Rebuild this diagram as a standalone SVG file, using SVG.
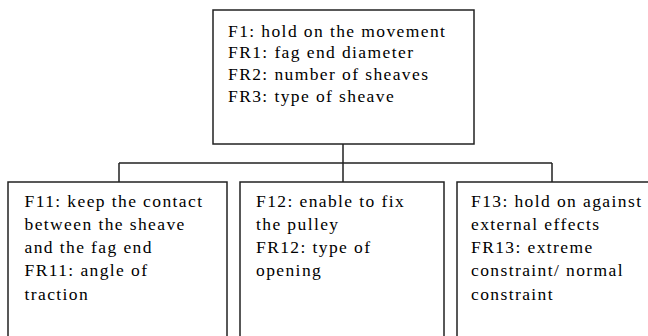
<svg xmlns="http://www.w3.org/2000/svg" width="648" height="336" viewBox="0 0 648 336">
<style>
.box{fill:#fff;stroke:#222;stroke-width:1.5}
.ln{fill:none;stroke:#222;stroke-width:1.5}
text{font-family:"Liberation Serif","Times New Roman",serif;font-size:17.5px;letter-spacing:1.4px;fill:#000}
</style>
<rect width="648" height="336" fill="#fff"/>
<g id="connectors">
<path class="ln" d="M343 144V163M119 163H552M119 163V182M343 163V182M552 163V182"/>
</g>
<g id="F1">
<rect class="box" x="213" y="10" width="261" height="134"/>
<text x="228" y="36.5">F1: hold on the movement</text>
<text x="228" y="58.2">FR1: fag end diameter</text>
<text x="228" y="79.9">FR2: number of sheaves</text>
<text x="228" y="101.6">FR3: type of sheave</text>
</g>
<g id="F11">
<rect class="box" x="8" y="182" width="219" height="170"/>
<text x="24.5" y="206.5">F11: keep the contact</text>
<text x="24.5" y="229.8">between the sheave</text>
<text x="24.5" y="253.1">and the fag end</text>
<text x="24.5" y="276.4">FR11: angle of</text>
<text x="24.5" y="299.7">traction</text>
</g>
<g id="F12">
<rect class="box" x="240" y="182" width="204" height="170"/>
<text x="256" y="206.5">F12: enable to fix</text>
<text x="256" y="229.8">the pulley</text>
<text x="256" y="253.1">FR12: type of</text>
<text x="256" y="276.4">opening</text>
</g>
<g id="F13">
<rect class="box" x="457" y="182" width="200" height="170"/>
<text x="471" y="206.5">F13: hold on against</text>
<text x="471" y="229.8">external effects</text>
<text x="471" y="253.1">FR13: extreme</text>
<text x="471" y="276.4">constraint/ normal</text>
<text x="471" y="299.7">constraint</text>
</g>
</svg>
